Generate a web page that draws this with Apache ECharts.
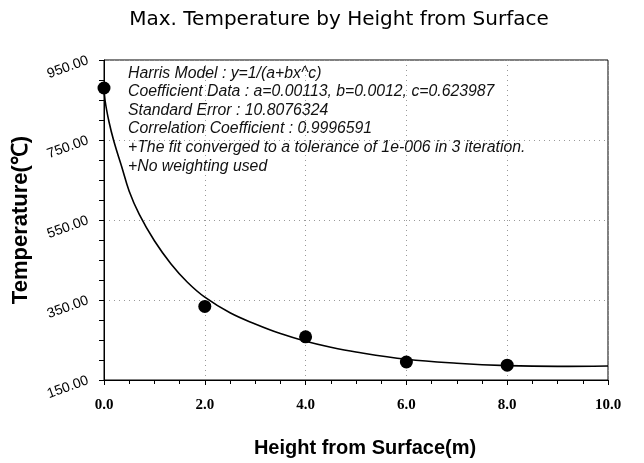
<!DOCTYPE html>
<html>
<head>
<meta charset="utf-8">
<script src="https://cdn.jsdelivr.net/npm/echarts@6/dist/echarts.min.js"></script>
<style>html,body{margin:0;padding:0;background:#fff}#c{width:644px;height:463px}</style>
</head>
<body>
<div id="c"></div>
<script>
// Measured points
const heights = [0, 2, 4, 6, 8];
const temps = [880, 334, 258, 195, 187];
// Fitted curve
const fitX = [0, 0.02, 0.1, 0.2, 0.35, 0.5, 0.7, 1.0, 1.33, 1.65, 2.0, 2.5, 3.0, 3.5, 4.0, 4.5, 5.0, 6.0, 7.0, 8.0, 9.0, 10.0];
const fitY = [885, 850, 795, 745, 684, 622, 564, 498, 440, 395, 357, 318, 290, 266, 247, 232, 220, 202, 192, 186, 184, 185];
const noteLines = [
  "Harris Model : y=1/(a+bx^c)",
  "Coefficient Data : a=0.00113, b=0.0012, c=0.623987",
  "Standard Error : 10.8076324",
  "Correlation Coefficient : 0.9996591",
  "+The fit converged to a tolerance of 1e-006 in 3 iteration.",
  "+No weighting used"
];
const titleText = "Max. Temperature by Height from Surface";
const xName = "Height from Surface(m)";
const yName = "Temperature(\u2103)";

const chart = echarts.init(document.getElementById('c'));
chart.setOption({
  animation: false,
  backgroundColor: '#fff',
  title: {
    text: titleText, left: 334, top: 5, textAlign: 'center',
    textStyle: { fontFamily: 'DejaVu Sans', fontSize: 20, fontWeight: 'normal', color: '#000' }
  },
  grid: { left: 104, right: 36, top: 60, bottom: 76, show: true, borderColor: '#000', borderWidth: 1 },
  graphic: [{
    type: 'text', left: 128, top: 64,
    style: {
      text: noteLines.join('\n'), fontFamily: 'Liberation Sans', fontStyle: 'italic',
      fontSize: 15.8, lineHeight: 18.6, fill: '#111'
    }
  }],
  xAxis: {
    type: 'value', min: 0, max: 10, interval: 2,
    name: xName, nameLocation: 'middle', nameGap: 58,
    nameTextStyle: { fontFamily: 'Liberation Sans', fontWeight: 'bold', fontSize: 20, color: '#000', padding: [0, 0, 0, 18] },
    axisLine: { lineStyle: { color: '#000', width: 1 } },
    axisTick: { show: true, length: 5, lineStyle: { color: '#000' } },
    minorTick: { show: true, splitNumber: 4, length: 4, lineStyle: { color: '#000' } },
    axisLabel: { formatter: v => v.toFixed(1), fontFamily: 'Liberation Serif', fontWeight: 'bold', fontSize: 15, color: '#000', margin: 18 },
    splitLine: { show: true, lineStyle: { type: [1, 4], color: '#999' } }
  },
  yAxis: {
    type: 'value', min: 150, max: 950, interval: 200,
    name: yName, nameLocation: 'middle', nameGap: 72,
    nameTextStyle: { fontFamily: 'Liberation Sans', fontWeight: 'bold', fontSize: 22, color: '#000' },
    axisLine: { show: true, lineStyle: { color: '#000', width: 1 } },
    axisTick: { show: true, length: 5, lineStyle: { color: '#000' } },
    minorTick: { show: true, splitNumber: 4, length: 5, lineStyle: { color: '#000' } },
    axisLabel: { formatter: v => v.toFixed(2), rotate: 20, fontFamily: 'Liberation Sans', fontSize: 14, color: '#000', margin: 16 },
    splitLine: { show: true, lineStyle: { type: [1, 4], color: '#999' } }
  },
  series: [
    {
      type: 'line', data: fitX.map((x, i) => [x, fitY[i]]), smooth: 0.4,
      showSymbol: false, lineStyle: { color: '#000', width: 1.6 }, z: 2
    },
    {
      type: 'scatter', data: heights.map((x, i) => [x, temps[i]]),
      symbol: 'circle', symbolSize: 13, itemStyle: { color: '#000', opacity: 1 }, z: 3
    }
  ]
});
</script>
</body>
</html>
